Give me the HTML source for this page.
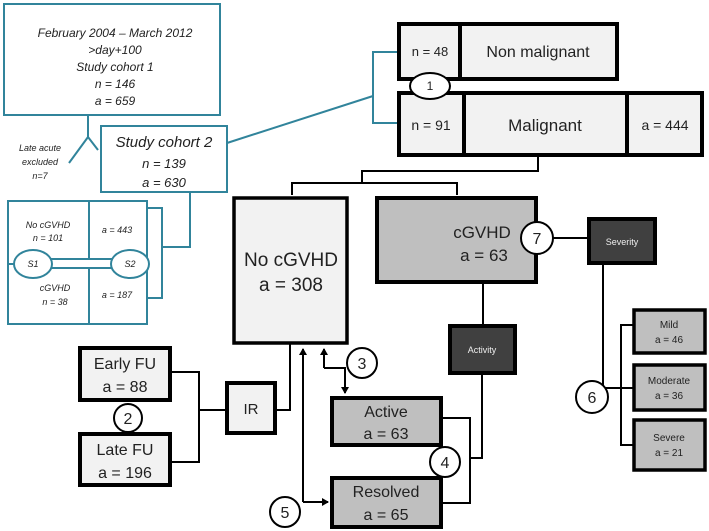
<!DOCTYPE html>
<html><head><meta charset="utf-8"><style>
html,body{margin:0;padding:0;background:#fff;}
svg{display:block;}
text{font-family:"Liberation Sans",sans-serif;}
.it{font-style:italic;}
</style></head><body>
<svg width="709" height="531" viewBox="0 0 709 531" xmlns="http://www.w3.org/2000/svg">
<defs>
<marker id="ah" markerWidth="8" markerHeight="8" refX="6" refY="4" orient="auto" markerUnits="userSpaceOnUse">
<path d="M0,0 L7,4 L0,8 z" fill="#000"/></marker>
</defs>
<g fill="none" stroke="#31849b" stroke-width="2">
<rect x="4" y="4" width="216" height="111" fill="#fff"/>
<path d="M88,115 V137 L69,163 M88,137 L98,150"/>
<rect x="101" y="126" width="126" height="66" fill="#fff"/>
<path d="M227,143 L373,96"/>
<path d="M398,52 H373 V123 H398"/>
<rect x="8" y="201" width="139" height="123" fill="#fff"/>
<path d="M89,201 V324 M8,264 H147"/>
<path d="M147,208 H162 V298 H147 M162,247 H190 V192"/>
<rect x="48" y="259" width="64" height="9" fill="#fff"/>
<ellipse cx="33" cy="264" rx="19" ry="14" fill="#fff"/>
<ellipse cx="130" cy="264" rx="19" ry="14" fill="#fff"/>
</g>
<g class="it" font-size="12" text-anchor="middle" fill="#222">
<text x="115" y="37">February 2004 – March 2012</text>
<text x="115" y="54">&gt;day+100</text>
<text x="115" y="71">Study cohort 1</text>
<text x="115" y="88">n = 146</text>
<text x="115" y="105">a = 659</text>
<text x="164" y="147" font-size="15">Study cohort 2</text>
<text x="164" y="168" font-size="13">n = 139</text>
<text x="164" y="187" font-size="13">a = 630</text>
<text x="40" y="151" font-size="9">Late acute</text>
<text x="40" y="165" font-size="9">excluded</text>
<text x="40" y="179" font-size="9">n=7</text>
<text x="48" y="228" font-size="9">No cGVHD</text>
<text x="48" y="241" font-size="9">n = 101</text>
<text x="117" y="233" font-size="9">a = 443</text>
<text x="55" y="291" font-size="9">cGVHD</text>
<text x="55" y="305" font-size="9">n = 38</text>
<text x="117" y="298" font-size="9">a = 187</text>
<text x="33" y="267" font-size="9">S1</text>
<text x="130" y="267" font-size="9">S2</text>
</g>
<g stroke="#000" fill="none" stroke-width="2">
<path d="M538,155 V171 H362 V183 M292,195 V183 H457 V195"/>
<path d="M553,238 H588 M603,263 V388 H633 M633,325 H621 V445 H633"/>
<path d="M483,282 V325 M482,373 V458 H470 M441,418 H470 V503 H441"/>
<path d="M275,410 H290 V343"/>
<path d="M170,372 H199 V462 H170 M199,410 H226"/>
<path d="M324,368 V349" marker-end="url(#ah)"/>
<path d="M324,368 H345 V393" marker-end="url(#ah)"/>
<path d="M303,502 V349" marker-end="url(#ah)"/>
<path d="M303,502 H328" marker-end="url(#ah)"/>
</g>
<g stroke="#000" stroke-width="4">
<rect x="399" y="24" width="218" height="55" fill="#f2f2f2"/>
<path d="M460,24 V79"/>
<rect x="399" y="93" width="303" height="62" fill="#f2f2f2"/>
<path d="M464,93 V155 M627,93 V155"/>
<rect x="234" y="198" width="113" height="145" fill="#f2f2f2" stroke-width="3.5"/>
<rect x="377" y="198" width="159" height="84" fill="#bfbfbf"/>
<rect x="589" y="219" width="66" height="44" fill="#404040"/>
<rect x="450" y="326" width="65" height="47" fill="#404040"/>
<rect x="634" y="310" width="71" height="43" fill="#bfbfbf" stroke-width="3.5"/>
<rect x="634" y="365" width="71" height="45" fill="#bfbfbf" stroke-width="3.5"/>
<rect x="634" y="420" width="71" height="50" fill="#bfbfbf" stroke-width="3.5"/>
<rect x="332" y="398" width="109" height="47" fill="#bfbfbf"/>
<rect x="332" y="478" width="109" height="49" fill="#bfbfbf"/>
<rect x="227" y="383" width="48" height="50" fill="#f2f2f2"/>
<rect x="80" y="348" width="90" height="52" fill="#f2f2f2"/>
<rect x="80" y="434" width="90" height="51" fill="#f2f2f2"/>
</g>
<g stroke="#000" stroke-width="2" fill="#fff">
<ellipse cx="430" cy="86" rx="20" ry="13"/>
<circle cx="537" cy="238" r="16"/>
<circle cx="592" cy="397" r="16"/>
<circle cx="445" cy="462" r="15"/>
<circle cx="362" cy="363" r="15"/>
<circle cx="285" cy="512" r="15"/>
<circle cx="128" cy="418" r="14"/>
</g>
<g text-anchor="middle" fill="#222">
<text x="430" y="90" font-size="12">1</text>
<text x="537" y="244" font-size="16">7</text>
<text x="592" y="403" font-size="16">6</text>
<text x="445" y="468" font-size="16">4</text>
<text x="362" y="369" font-size="16">3</text>
<text x="285" y="518" font-size="16">5</text>
<text x="128" y="424" font-size="16">2</text>
<text x="430" y="56" font-size="13">n = 48</text>
<text x="538" y="57" font-size="16">Non malignant</text>
<text x="431" y="130" font-size="14">n = 91</text>
<text x="545" y="131" font-size="17">Malignant</text>
<text x="665" y="130" font-size="14">a = 444</text>
<text x="291" y="266" font-size="19">No cGVHD</text>
<text x="291" y="291" font-size="19">a = 308</text>
<text x="482" y="238" font-size="17">cGVHD</text>
<text x="484" y="261" font-size="17">a = 63</text>
<text x="622" y="245" font-size="9" fill="#eee">Severity</text>
<text x="482" y="353" font-size="9" fill="#eee">Activity</text>
<text x="669" y="328" font-size="10">Mild</text>
<text x="669" y="343" font-size="10">a = 46</text>
<text x="669" y="384" font-size="10">Moderate</text>
<text x="669" y="399" font-size="10">a = 36</text>
<text x="669" y="441" font-size="10">Severe</text>
<text x="669" y="456" font-size="10">a = 21</text>
<text x="386" y="417" font-size="16">Active</text>
<text x="386" y="439" font-size="16">a = 63</text>
<text x="386" y="497" font-size="16">Resolved</text>
<text x="386" y="520" font-size="16">a = 65</text>
<text x="251" y="414" font-size="15">IR</text>
<text x="125" y="369" font-size="16">Early FU</text>
<text x="125" y="392" font-size="16">a = 88</text>
<text x="125" y="455" font-size="16">Late FU</text>
<text x="125" y="478" font-size="16">a = 196</text>
</g>
</svg>
</body></html>
